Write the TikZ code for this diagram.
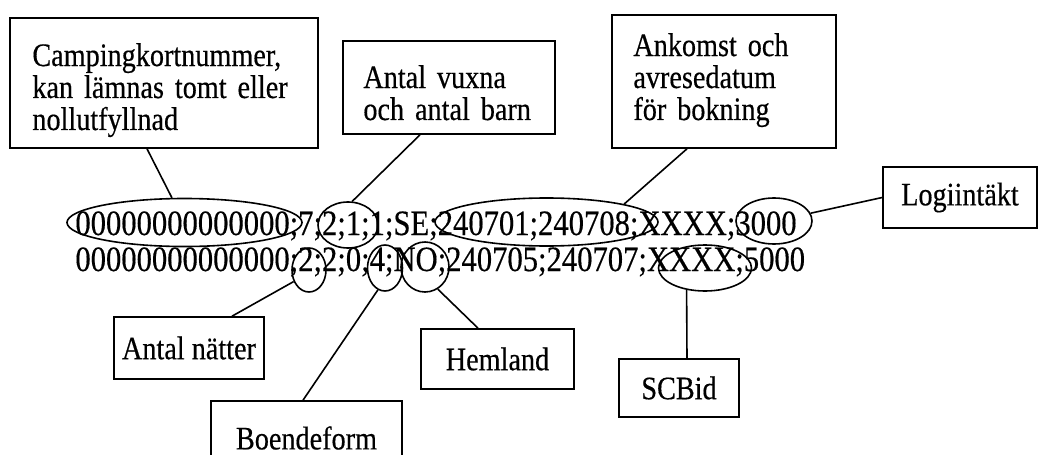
\documentclass[tikz,border=0pt]{standalone}
\usepackage{fontspec}
\setmainfont[FakeStretch=0.86,FakeBold=0.4]{Liberation Serif}
\usetikzlibrary{shapes.geometric}
\tikzset{
  boxfont/.style={font=\fontsize{16.4}{16}\selectfont},
  lbl/.style={draw, line width=0.8pt, rectangle, inner ysep=0pt, boxfont},
  txt/.style={inner sep=0pt, anchor=base west, align=left, boxfont},
  ring/.style={draw, ellipse, line width=0.8pt, inner sep=0pt},
  link/.style={line width=0.8pt},
  rec/.style={inner sep=0pt, anchor=base west, font=\fontsize{17.8}{18}\selectfont}
}
\begin{document}
\begin{tikzpicture}[x=0.5pt,y=-0.5pt]
\useasboundingbox (0,0) rectangle (1040,455);
\clip (0,0) rectangle (1040,455);
% records
\node[rec] (r1) at (75,235) {00000000000000;7;2;1;1;SE;240701;240708;XXXX;3000};
\node[rec] (r2) at (75,271) {00000000000000;2;2;0;4;NO;240705;240707;XXXX;5000};
% ellipses
\node[ring, minimum width=117.5pt, minimum height=24pt] (e1) at (184.5,222.5) {};
\node[ring, minimum width=30pt, minimum height=23pt] (e2) at (348,225) {};
\node[ring, minimum width=111.5pt, minimum height=24pt] (e3) at (546.5,222) {};
\node[ring, minimum width=38pt, minimum height=23pt] (e4) at (774,221) {};
\node[ring, minimum width=17pt, minimum height=22pt] (e5) at (309,270) {};
\node[ring, minimum width=17.5pt, minimum height=23pt] (e6) at (385,268) {};
\node[ring, minimum width=24pt, minimum height=25pt] (e7) at (425,267) {};
\node[ring, minimum width=46.5pt, minimum height=23pt] (e8) at (705,268) {};
% boxes
\node[lbl, minimum width=154pt, minimum height=65pt] (b1) at (164,83) {};
\node[txt, text width=140pt] (t1) at (32,66) {Campingkortnummer,\\kan lämnas tomt eller\\nollutfyllnad};
\node[lbl, minimum width=106pt, minimum height=46.5pt] (b2) at (449,87.5) {};
\node[txt, text width=92pt] (t2) at (363,88) {Antal vuxna\\och antal barn};
\node[lbl, minimum width=112pt, minimum height=66.5pt] (b3) at (724,81.5) {};
\node[txt, text width=98pt] (t3) at (633,56) {Ankomst och\\avresedatum\\för bokning};
\node[lbl, minimum width=77pt, minimum height=30.5pt] (b4) at (960,197.5) {Logiintäkt};
\node[lbl, minimum width=75pt, minimum height=31pt] (b5) at (189,348) {Antal nätter};
\node[lbl, minimum width=76.5pt, minimum height=30pt] (b6) at (497.5,359) {Hemland};
\node[lbl, minimum width=95.5pt, minimum height=37pt] (b7) at (306.5,438) {Boendeform};
\node[lbl, minimum width=60pt, minimum height=29pt] (b8) at (679,388) {SCBid};
% connectors
\draw[link] ([xshift=-8.5pt]b1.south) -- (e1.117);
\draw[link] ([xshift=-14.5pt]b2.south) -- (e2.80);
\draw[link] ([xshift=-18.5pt]b3.south) -- (e3.13);
\draw[link] (e4.12) -- (b4.west);
\draw[link] ([xshift=21.5pt]b5.north) -- (e5.217);
\draw[link] ([xshift=-1.75pt]b7.north) -- (e6.252);
\draw[link] ([xshift=-9.75pt]b6.north) -- (e7.300);
\draw[link] ([xshift=4pt]b8.north) -- (e8.230);
\end{tikzpicture}
\end{document}
